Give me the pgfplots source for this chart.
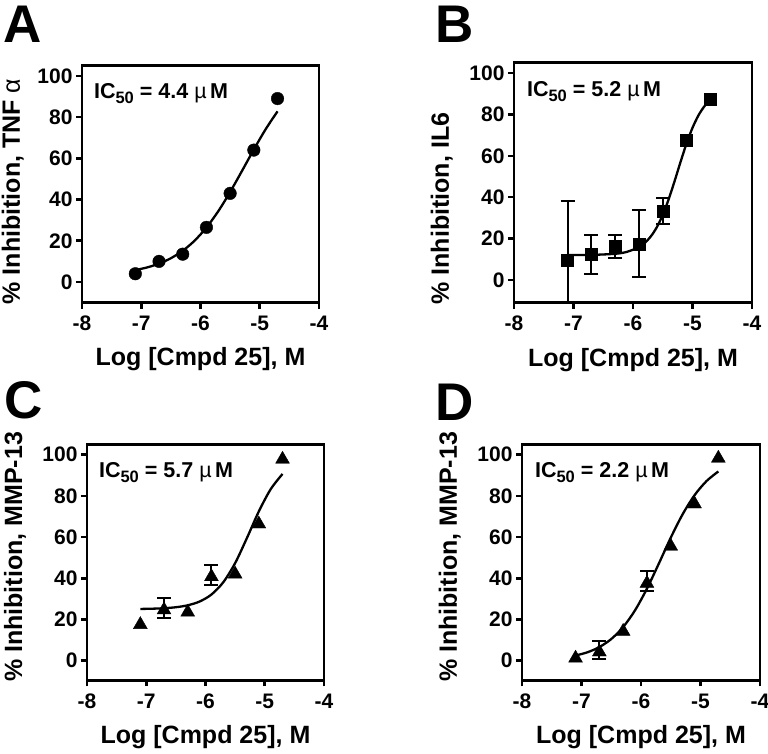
\documentclass[border=0pt]{standalone}
\usepackage{fontspec}
\setmainfont{Liberation Sans}
\usepackage{pgfplots}
\pgfplotsset{compat=1.18}

\pgfplotsset{
  panel/.style={
    scale only axis,
    anchor=south west,
    xmin=-8, xmax=-4,
    xtick={-8,-7,-6,-5,-4},
    xticklabels={-8,-7,-6,-5,-4},
    ytick={0,20,40,60,80,100},
    yticklabels={0,20,40,60,80,100},
    tick align=outside,
    xtick pos=bottom, ytick pos=left,
    major tick length=6pt,
    tick style={line width=2.6pt, black},
    axis line style={line width=2.9pt},
    tick label style={font=\fontsize{21}{21}\selectfont\bfseries},
    xticklabel style={yshift=-4pt},
    label style={font=\fontsize{25}{25}\selectfont\bfseries},
    xlabel={Log [Cmpd 25], M},
    xlabel style={at={(axis description cs:0.5,-0.266)}, anchor=base, inner sep=0pt},
    ylabel style={at={(axis description cs:-0.274,-0.008)}, anchor=base west, inner sep=0pt},
  },
  fit/.style={line width=2.3pt, black, smooth, no marks},
  ebar/.style={error bars/.cd, y dir=both, y explicit,
    error bar style={line width=2pt, black},
    error mark options={rotate=90, mark size=7pt, line width=2pt, black}},
}
\newcommand{\icfont}{\fontsize{21.5}{21.5}\selectfont\bfseries}
\newcommand{\ic}[1]{IC\raisebox{-5pt}{\fontsize{16.5}{16.5}\selectfont 50} = #1 {\mdseries µ}\,M}

\begin{document}
\begin{tikzpicture}
\path[use as bounding box] (0pt,0pt) rectangle (768pt,753pt);

% Panel letters
\node[anchor=base west, inner sep=0pt, font=\fontsize{53}{53}\selectfont\bfseries] at (3pt,710pt) {A};
\node[anchor=base west, inner sep=0pt, font=\fontsize{53}{53}\selectfont\bfseries] at (435pt,710pt) {B};
\node[anchor=base west, inner sep=0pt, font=\fontsize{53}{53}\selectfont\bfseries] at (4pt,334.5pt) {C};
\node[anchor=base west, inner sep=0pt, font=\fontsize{53}{53}\selectfont\bfseries] at (435pt,332pt) {D};

% A: TNF alpha
\begin{axis}[panel, at={(82pt,450.4pt)}, width=237pt, height=237pt,
  ymin=-10, ymax=105, ylabel={\% Inhibition, TNF {\mdseries α}},
  ylabel style={at={(axis description cs:-0.262,-0.008)}}]
\addplot[fit] coordinates {
  (-7.1,5.79) (-6.9,7.07) (-6.7,8.92) (-6.5,11.53) (-6.3,15.15) (-6.1,20.04)
  (-5.9,26.42) (-5.7,34.35) (-5.5,43.67) (-5.3,53.88) (-5.1,64.29) (-4.9,74.13) (-4.7,82.80)
};
\addplot[only marks, mark=*, mark size=6.3pt, black] coordinates {
  (-7.1,4) (-6.7,10) (-6.3,13.5) (-5.9,26.5) (-5.5,43) (-5.1,64) (-4.7,89)
};
\node[anchor=base west, inner sep=0pt, font=\icfont] at (axis description cs:0.05,0.861) {\ic{4.4}};
\end{axis}

% B: IL6
\begin{axis}[panel, at={(514pt,450.3pt)}, width=238pt, height=240pt,
  ymin=-11, ymax=105, ylabel={\% Inhibition, IL6}]
\addplot[fit] coordinates {
  (-7.1,12.02) (-6.7,12.10) (-6.3,12.64) (-6.1,13.59) (-5.9,15.87) (-5.8,17.96)
  (-5.7,21.06) (-5.6,25.47) (-5.5,31.46) (-5.4,39.04) (-5.3,47.86) (-5.2,57.14)
  (-5.1,65.96) (-5.0,73.54) (-4.9,79.53) (-4.8,83.94) (-4.7,87.04)
};
\addplot[only marks, mark=square*, mark size=6pt, black, ebar] coordinates {
  (-7.1,9.5) +- (0,28.5)
  (-6.7,12.2) +- (0,9.4)
  (-6.3,16.2) +- (0,5.5)
  (-5.9,17.5) +- (0,16.2)
  (-5.5,33.4) +- (0,6.3)
};
\addplot[only marks, mark=square*, mark size=6pt, black] coordinates {
  (-5.1,67.3) (-4.7,87.4)
};
\node[anchor=base west, inner sep=0pt, font=\icfont] at (axis description cs:0.054,0.86) {\ic{5.2}};
\end{axis}

% C: MMP-13
\begin{axis}[panel, at={(87pt,72.7pt)}, width=237pt, height=236pt,
  ymin=-9.5, ymax=105, ylabel={\% Inhibition, MMP-13}]
\addplot[fit] coordinates {
  (-7.1,25.12) (-6.9,25.24) (-6.7,25.47) (-6.5,25.95) (-6.3,26.89) (-6.1,28.71)
  (-5.9,32.11) (-5.7,38.07) (-5.5,47.35) (-5.3,59.58) (-5.1,72.44) (-4.9,83.21) (-4.7,90.61)
};
\addplot[only marks, mark=triangle*, mark size=8pt, mark options={yshift=-2pt}, black, ebar] coordinates {
  (-6.7,25.6) +- (0,4.8)
  (-5.9,41.7) +- (0,4.8)
};
\addplot[only marks, mark=triangle*, mark size=8pt, mark options={yshift=-2pt}, black] coordinates {
  (-7.1,18.5) (-6.3,24.5) (-5.5,43.0) (-5.1,67.3) (-4.7,98.7)
};
\node[anchor=base west, inner sep=0pt, font=\icfont] at (axis description cs:0.05,0.861) {\ic{5.7}};
\end{axis}

% D: MMP-13
\begin{axis}[panel, at={(522pt,72.7pt)}, width=238pt, height=236pt,
  ymin=-9.5, ymax=105, ylabel={\% Inhibition, MMP-13}]
\addplot[fit] coordinates {
  (-7.1,2.51) (-6.9,4.10) (-6.7,6.62) (-6.5,10.52) (-6.3,16.33) (-6.1,24.47)
  (-5.9,34.97) (-5.7,47.15) (-5.5,59.69) (-5.3,71.07) (-5.1,80.31) (-4.9,87.13) (-4.7,91.83)
};
\addplot[only marks, mark=triangle*, mark size=8pt, mark options={yshift=-2pt}, black, ebar] coordinates {
  (-6.7,5.2) +- (0,4.2)
  (-5.9,38.5) +- (0,4.9)
};
\addplot[only marks, mark=triangle*, mark size=8pt, mark options={yshift=-2pt}, black] coordinates {
  (-7.1,2.2) (-6.3,15.2) (-5.5,56.5) (-5.1,77.0) (-4.7,99.2)
};
\node[anchor=base west, inner sep=0pt, font=\icfont] at (axis description cs:0.054,0.861) {\ic{2.2}};
\end{axis}
\end{tikzpicture}
\end{document}
